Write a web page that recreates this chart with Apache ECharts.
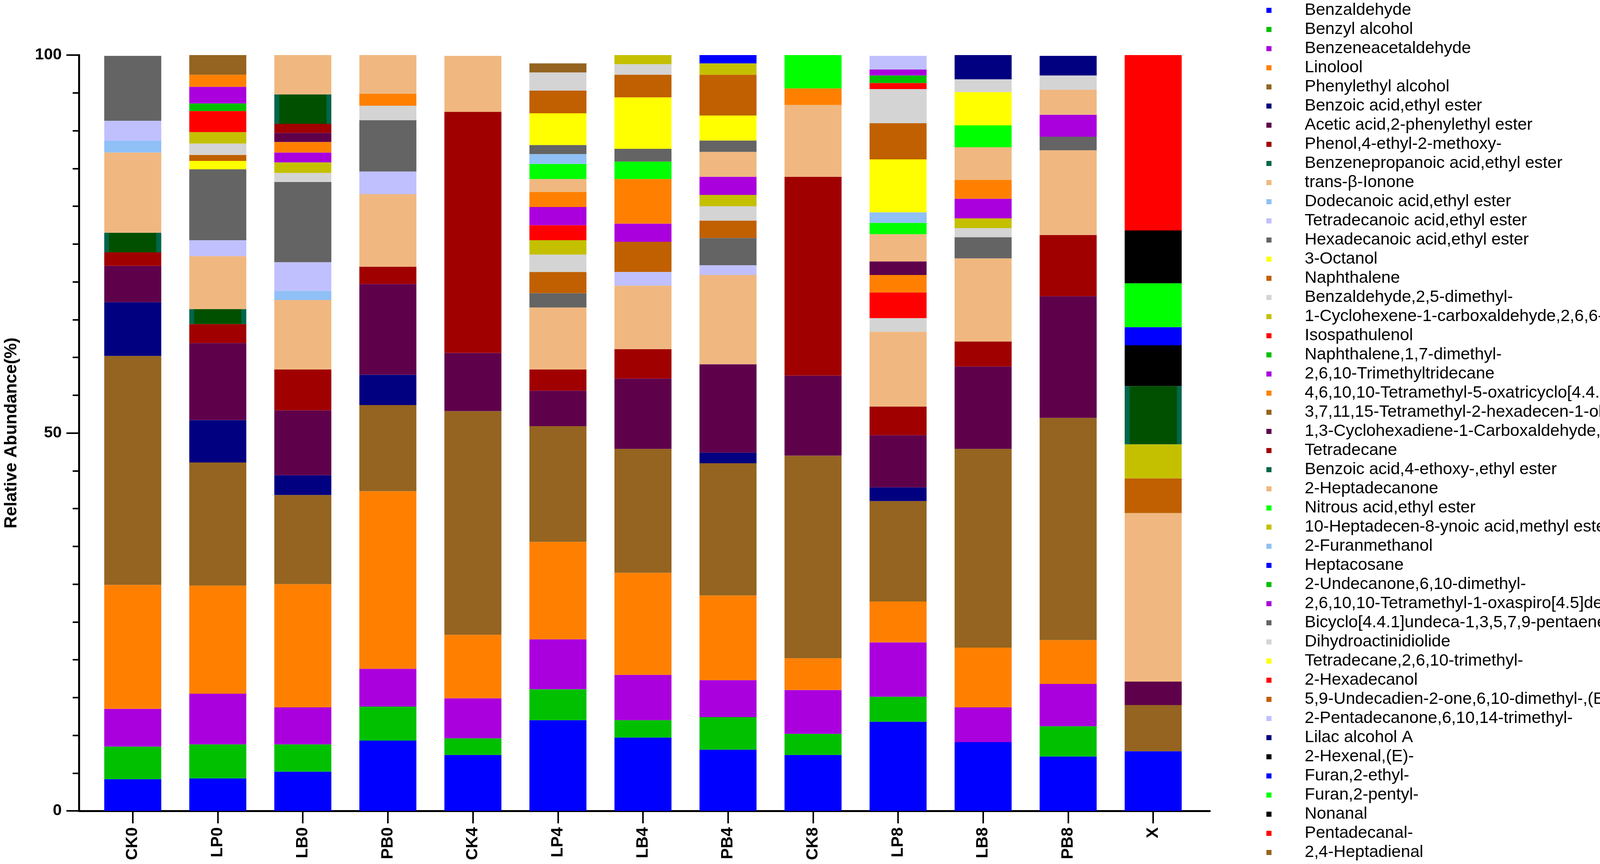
<!DOCTYPE html>
<html>
<head>
<meta charset="utf-8">
<script src="https://cdn.jsdelivr.net/npm/echarts@6/dist/echarts.min.js"></script>
<style>
  html, body { margin: 0; padding: 0; background: #fff; }
  #chart { width: 4549px; height: 2212px; }
</style>
</head>
<body>
<div id="chart"></div>
<script>
// samples on the x axis
const samples = ['CK0', 'LP0', 'LB0', 'PB0', 'CK4', 'LP4', 'LB4', 'PB4', 'CK8', 'LP8', 'LB8', 'PB8', 'X'];

// compounds in stacking order (bottom -> top); the 5 "unlisted" ones are drawn but not in the legend
const compounds = [
  'Benzaldehyde', 'Benzyl alcohol', 'Benzeneacetaldehyde', 'Linolool', 'Phenylethyl alcohol',
  'Benzoic acid,ethyl ester', 'Acetic acid,2-phenylethyl ester', 'Phenol,4-ethyl-2-methoxy-',
  'Benzenepropanoic acid,ethyl ester', 'trans-β-Ionone',
  'Dodecanoic acid,ethyl ester', 'Tetradecanoic acid,ethyl ester', 'Hexadecanoic acid,ethyl ester',
  '3-Octanol', 'Naphthalene', 'Benzaldehyde,2,5-dimethyl-',
  '1-Cyclohexene-1-carboxaldehyde,2,6,6-trimethyl-', 'Isospathulenol', 'Naphthalene,1,7-dimethyl-',
  '2,6,10-Trimethyltridecane',
  '4,6,10,10-Tetramethyl-5-oxatricyclo[4.4.0.0(1,4)]dec-2-en-7-ol', '3,7,11,15-Tetramethyl-2-hexadecen-1-ol',
  '1,3-Cyclohexadiene-1-Carboxaldehyde,2,6,6-Trimethyl-', 'Tetradecane', 'Benzoic acid,4-ethoxy-,ethyl ester',
  '2-Heptadecanone', 'Nitrous acid,ethyl ester', '10-Heptadecen-8-ynoic acid,methyl ester',
  '2-Furanmethanol', 'Heptacosane',
  '2-Undecanone,6,10-dimethyl-', '2,6,10,10-Tetramethyl-1-oxaspiro[4.5]decan-6-ol',
  'Bicyclo[4.4.1]undeca-1,3,5,7,9-pentaene', 'Dihydroactinidiolide', 'Tetradecane,2,6,10-trimethyl-',
  '2-Hexadecanol', '5,9-Undecadien-2-one,6,10-dimethyl-,(E)-',
  'unlisted 1', 'unlisted 2', 'unlisted 3',
  'unlisted 4', 'unlisted 5', '2-Pentadecanone,6,10,14-trimethyl-', 'Lilac alcohol A', '2-Hexenal,(E)-',
  'Furan,2-ethyl-', 'Furan,2-pentyl-', 'Nonanal', 'Pentadecanal-', '2,4-Heptadienal'
];

const colors = [
  '#0000ff', '#00c000', '#aa00dd', '#ff8000', '#946420', '#000080', '#5f004b', '#a00000', '#005000', '#f0b880',
  '#90c0f6', '#c0c0ff', '#646464', '#ffff00', '#c06000', '#d4d4d4', '#c4c000', '#ff0000', '#00c000', '#aa00dd',
  '#ff8000', '#946420', '#5f004b', '#a00000', '#005000', '#f0b880', '#00ff00', '#c4c000', '#90c0f6', '#0000ff',
  '#00c000', '#aa00dd', '#646464', '#d4d4d4', '#ffff00', '#ff0000', '#c06000', '#d4d4d4', '#c4c000', '#ff0000',
  '#00c000', '#aa00dd', '#c0c0ff', '#000080', '#000000', '#0000ff', '#00ff00', '#000000', '#ff0000', '#946420'
];

// relative abundance (%) per sample, one value per compound above (rows of 10)
const ck0 = [4.2, 4.3, 5.0, 16.4, 30.3, 7.1, 4.8, 1.8, 2.6, 10.6,
             1.6, 2.6, 8.6, 0, 0, 0, 0, 0, 0, 0,
             0, 0, 0, 0, 0, 0, 0, 0, 0, 0,
             0, 0, 0, 0, 0, 0, 0, 0, 0, 0,
             0, 0, 0, 0, 0, 0, 0, 0, 0, 0];
const lp0 = [4.3, 4.5, 6.7, 14.3, 16.3, 5.6, 10.2, 2.5, 2.0, 7.0,
             0, 2.1, 9.4, 1.1, 0.8, 1.5, 1.5, 2.8, 1.0, 2.2,
             1.6, 2.6, 0, 0, 0, 0, 0, 0, 0, 0,
             0, 0, 0, 0, 0, 0, 0, 0, 0, 0,
             0, 0, 0, 0, 0, 0, 0, 0, 0, 0];
const lb0 = [5.2, 3.6, 4.9, 16.3, 11.8, 2.6, 8.6, 5.4, 0, 9.2,
             1.2, 3.8, 10.6, 0, 0, 1.2, 1.4, 0, 0, 1.3,
             1.4, 0, 1.2, 1.2, 3.9, 5.2, 0, 0, 0, 0,
             0, 0, 0, 0, 0, 0, 0, 0, 0, 0,
             0, 0, 0, 0, 0, 0, 0, 0, 0, 0];
const pb0 = [9.3, 4.5, 5.0, 23.5, 11.4, 4.0, 12.0, 2.3, 0, 9.6,
             0, 3.0, 6.8, 0, 0, 1.9, 0, 0, 0, 0,
             1.6, 0, 0, 0, 0, 5.1, 0, 0, 0, 0,
             0, 0, 0, 0, 0, 0, 0, 0, 0, 0,
             0, 0, 0, 0, 0, 0, 0, 0, 0, 0];
const ck4 = [7.4, 2.2, 5.3, 8.4, 29.6, 0, 7.7, 31.9, 0, 7.4,
             0, 0, 0, 0, 0, 0, 0, 0, 0, 0,
             0, 0, 0, 0, 0, 0, 0, 0, 0, 0,
             0, 0, 0, 0, 0, 0, 0, 0, 0, 0,
             0, 0, 0, 0, 0, 0, 0, 0, 0, 0];
const lp4 = [12.0, 4.1, 6.6, 12.9, 15.3, 0, 4.7, 2.8, 0, 8.2,
             0, 0, 1.9, 0, 2.8, 2.3, 1.9, 2.0, 0, 2.4,
             2.0, 0, 0, 0, 0, 1.7, 2.0, 0, 1.3, 0,
             0, 0, 1.2, 0, 4.2, 0, 3.0, 2.4, 0, 0,
             0, 0, 0, 0, 0, 0, 0, 0, 0, 1.2];
const lb4 = [9.7, 2.3, 6.0, 13.5, 16.4, 0, 9.3, 3.9, 0, 8.4,
             0, 1.8, 0, 0, 4.0, 0, 0, 0, 0, 2.4,
             5.9, 0, 0, 0, 0, 0, 2.3, 0, 0, 0,
             0, 0, 1.7, 0, 6.8, 0, 3.0, 1.4, 1.4, 0,
             0, 0, 0, 0, 0, 0, 0, 0, 0, 0];
const pb4 = [8.1, 4.3, 4.9, 11.2, 17.5, 1.4, 11.7, 0, 0, 11.8,
             0, 1.3, 3.6, 0, 2.3, 1.9, 1.5, 0, 0, 2.4,
             0, 0, 0, 0, 0, 3.3, 0, 0, 0, 0,
             0, 0, 1.5, 0, 3.3, 0, 5.4, 0, 1.5, 0,
             0, 0, 0, 0, 0, 1.3, 0, 0, 0, 0];
const ck8 = [7.4, 2.8, 5.8, 4.2, 26.8, 0, 10.6, 26.3, 0, 9.5,
             0, 0, 0, 0, 0, 0, 0, 0, 0, 0,
             2.2, 0, 0, 0, 0, 0, 4.5, 0, 0, 0,
             0, 0, 0, 0, 0, 0, 0, 0, 0, 0,
             0, 0, 0, 0, 0, 0, 0, 0, 0, 0];
const lp8 = [11.8, 3.3, 7.2, 5.4, 13.3, 1.8, 6.9, 3.8, 0, 9.9,
             0, 0, 0, 0, 0, 1.8, 0, 3.4, 0, 0,
             2.3, 0, 1.8, 0, 0, 3.6, 1.5, 0, 1.4, 0,
             0, 0, 0, 0, 7.0, 0, 4.8, 4.5, 0, 0.8,
             1.0, 0.8, 1.8, 0, 0, 0, 0, 0, 0, 0];
const lb8 = [9.1, 0, 4.6, 7.9, 26.3, 0, 10.9, 3.3, 0, 11.0,
             0, 0, 2.8, 0, 0, 1.2, 1.3, 0, 0, 2.6,
             2.5, 0, 0, 0, 0, 4.3, 2.9, 0, 0, 0,
             0, 0, 0, 0, 4.4, 0, 0, 1.7, 0, 0,
             0, 0, 0, 3.2, 0, 0, 0, 0, 0, 0];
const pb8 = [7.2, 4.0, 5.6, 5.8, 29.4, 0, 16.1, 8.1, 0, 11.2,
             0, 0, 1.8, 0, 0, 0, 0, 0, 0, 2.9,
             0, 0, 0, 0, 0, 3.3, 0, 0, 0, 0,
             0, 0, 0, 0, 0, 0, 0, 1.9, 0, 0,
             0, 0, 0, 2.6, 0, 0, 0, 0, 0, 0];
const x = [7.9, 0, 0, 0, 6.1, 0, 3.1, 0, 0, 22.3,
           0, 0, 0, 0, 4.6, 0, 4.5, 0, 0, 0,
           0, 0, 0, 0, 7.7, 0, 0, 0, 0, 0,
           0, 0, 0, 0, 0, 0, 0, 0, 0, 0,
           0, 0, 0, 0, 5.4, 2.4, 5.8, 7.0, 23.3, 0];

const rows = [ck0, lp0, lb0, pb0, ck4, lp4, lb4, pb4, ck8, lp8, lb8, pb8, x];

// the two dark green compounds are drawn with a lighter frame on the sides
const framed = ['Benzenepropanoic acid,ethyl ester', 'Benzoic acid,4-ethoxy-,ethyl ester'];
const frameColor = '#00664a';

function fillFor(i) {
  if (framed.indexOf(compounds[i]) < 0) return colors[i];
  return new echarts.graphic.LinearGradient(0, 0, 1, 0, [
    { offset: 0, color: frameColor }, { offset: 0.085, color: frameColor },
    { offset: 0.085, color: colors[i] }, { offset: 0.915, color: colors[i] },
    { offset: 0.915, color: frameColor }, { offset: 1, color: frameColor }
  ]);
}

const series = compounds.map((name, i) => ({
  name: name,
  type: 'bar',
  stack: 'total',
  barWidth: 146,
  xAxisIndex: 0,
  yAxisIndex: 0,
  itemStyle: { color: fillFor(i) },
  emphasis: { disabled: true },
  data: rows.map(r => r[i] || null)
}));

const legendData = compounds
  .filter(n => n.indexOf('unlisted') !== 0)
  .map(n => framed.indexOf(n) >= 0 ? { name: n, itemStyle: { color: frameColor } } : n);

const chart = echarts.init(document.getElementById('chart'));
chart.setOption({
  animation: false,
  backgroundColor: '#fff',
  textStyle: { fontFamily: 'Liberation Sans, Arial, sans-serif' },
  grid: [
    { left: 231, right: 1488, top: 141, bottom: 136 },   // bars
    { left: 196, right: 1452, top: 141, bottom: 136 }    // axis frame, a bit wider
  ],
  legend: {
    data: legendData,
    orient: 'vertical',
    left: 3242,
    top: 5,
    padding: 0,
    icon: 'rect',
    itemWidth: 13,
    itemHeight: 13,
    itemGap: 6,
    selectedMode: false,
    textStyle: { fontSize: 43, lineHeight: 43, color: '#000', padding: [0, 0, 0, 80] }
  },
  xAxis: [
    {
      gridIndex: 0,
      type: 'category',
      data: samples,
      axisLine: { show: false },
      axisTick: { show: true, alignWithLabel: true, length: 32, lineStyle: { color: '#000', width: 4 } },
      axisLabel: { rotate: 90, interval: 0, fontSize: 42, fontWeight: 'bold', color: '#000', margin: 42 }
    },
    {
      gridIndex: 1,
      type: 'value',
      min: 0,
      max: 1,
      axisLine: { show: true, onZero: false, lineStyle: { color: '#000', width: 5 } },
      axisTick: { show: false },
      axisLabel: { show: false },
      splitLine: { show: false }
    }
  ],
  yAxis: [
    { gridIndex: 0, type: 'value', min: 0, max: 100, show: false },
    {
      gridIndex: 1,
      type: 'value',
      min: 0,
      max: 100,
      interval: 50,
      axisLine: { show: true, onZero: false, lineStyle: { color: '#000', width: 5 } },
      axisTick: { show: true, length: 32, lineStyle: { color: '#000', width: 4 } },
      minorTick: { show: true, splitNumber: 10, length: 16, lineStyle: { color: '#000', width: 4 } },
      splitLine: { show: false },
      axisLabel: { fontSize: 41, fontWeight: 'bold', color: '#000', margin: 44 },
      name: 'Relative Abundance(%)',
      nameLocation: 'middle',
      nameRotate: 90,
      nameGap: 150,
      nameTextStyle: { fontSize: 44, fontWeight: 'bold', color: '#000',
                       fontFamily: 'Liberation Sans Narrow, Liberation Sans, sans-serif' }
    }
  ],
  series: series
});
</script>
</body>
</html>
